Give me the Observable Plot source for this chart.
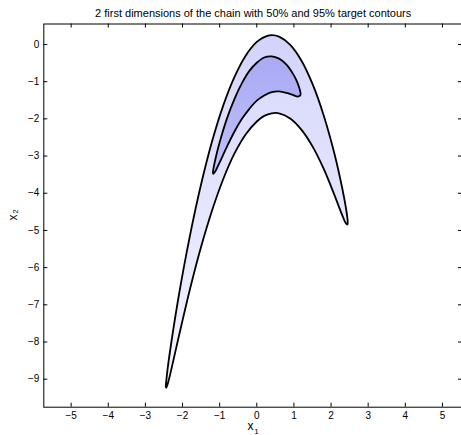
<!DOCTYPE html>
<html><head><meta charset="utf-8">
<script src="https://cdn.jsdelivr.net/npm/d3@7"></script>
<script src="https://cdn.jsdelivr.net/npm/@observablehq/plot@0.6"></script>
<style>body{margin:0;background:#fff} svg{display:block}</style>
</head><body><div id="chart"></div>
<script>
const title = "2 first dimensions of the chain with 50% and 95% target contours";
const xTicks = [-5,-4,-3,-2,-1,0,1,2,3,4,5];
const yTicks = [-9,-8,-7,-6,-5,-4,-3,-2,-1,0];

// 95% contour, read as x1 positions with the upper and lower x2 edges
const c95x     = [-2.45,-2.44,-2.4,-2.3,-2.1,-1.8,-1.5,-1.2,-0.9,-0.6,-0.3,0,0.2,0.4,0.6,0.9,1.2,1.5,1.8,2.1,2.3,2.4,2.44,2.45];
const c95upper = [-9.19,-9.07,-8.71,-8.00,-6.75,-5.14,-3.76,-2.59,-1.63,-0.87,-0.30,0.07,0.20,0.25,0.21,-0.01,-0.43,-1.06,-1.90,-2.97,-3.86,-4.39,-4.67,-4.79];
const c95lower = [-9.19,-9.23,-9.13,-8.73,-7.85,-6.58,-5.44,-4.45,-3.61,-2.93,-2.42,-2.07,-1.92,-1.85,-1.85,-1.99,-2.29,-2.74,-3.34,-4.07,-4.59,-4.81,-4.84,-4.79];

// 50% contour
const c50x     = [-1.18,-1.17,-1.1,-1.0,-0.8,-0.6,-0.4,-0.2,0,0.2,0.4,0.6,0.8,1.0,1.1,1.17,1.18];
const c50upper = [-3.45,-3.36,-3.02,-2.63,-1.98,-1.46,-1.04,-0.71,-0.49,-0.35,-0.32,-0.38,-0.54,-0.83,-1.04,-1.26,-1.33];
const c50lower = [-3.45,-3.48,-3.38,-3.17,-2.74,-2.34,-2.00,-1.73,-1.51,-1.37,-1.28,-1.26,-1.30,-1.37,-1.40,-1.37,-1.33];

// approximate sample-cloud tint (x2 level -> colour)
const tint95Levels = [0.3, -1.5, -4, -6.5, -9.3];
const tint95Colors = ["#d2d2fb", "#dcdcfc", "#e4e4fd", "#ececfe", "#f4f4ff"];
const tint50Levels = [-0.3, -1.8, -3.5];
const tint50Colors = ["#a9a9f5", "#b4b4f6", "#c2c2f8"];

function ring(xs, up, lo) {
  const pts = xs.map((x, i) => ({x, y: up[i]}));
  for (let i = xs.length - 2; i >= 1; i--) pts.push({x: xs[i], y: lo[i]});
  return pts;
}
const ring95 = ring(c95x, c95upper, c95lower);
const ring50 = ring(c50x, c50upper, c50lower);

const W = 461, H = 435;
const mL = 43.3, mT = 23.5, mR = -1, mB = 28.3;
const innerW = W - mL - mR, innerH = H - mT - mB;
const fmt = d => d < 0 ? "\u2212" + (-d) : String(d);
const font = "'Liberation Sans', Arial, Helvetica, sans-serif";

function gradients(index, scales) {
  const defs = d3.create("svg:defs");
  const add = (id, levels, colors) => {
    const y0 = scales.y(levels[0]), y1 = scales.y(levels[levels.length - 1]);
    const g = defs.append("linearGradient").attr("id", id)
      .attr("gradientUnits", "userSpaceOnUse")
      .attr("x1", 0).attr("x2", 0).attr("y1", y0).attr("y2", y1);
    levels.forEach((l, i) => g.append("stop")
      .attr("offset", (scales.y(l) - y0) / (y1 - y0))
      .attr("stop-color", colors[i]));
  };
  add("tint95", tint95Levels, tint95Colors);
  add("tint50", tint50Levels, tint50Colors);
  return defs.node();
}

const chart = Plot.plot({
  width: W, height: H,
  marginLeft: mL, marginTop: mT, marginRight: mR, marginBottom: mB,
  x: {domain: [-5.736, 5.54]},
  y: {domain: [-9.753, 0.551]},
  style: {fontFamily: font, background: "#fff", color: "#000", overflow: "visible"},
  marks: [
    gradients,
    Plot.line(ring95, {x: "x", y: "y", curve: "catmull-rom-closed", fill: "url(#tint95)", stroke: "none"}),
    Plot.line(ring50, {x: "x", y: "y", curve: "catmull-rom-closed", fill: "url(#tint50)", stroke: "none"}),
    Plot.line(ring95, {x: "x", y: "y", curve: "catmull-rom-closed", stroke: "#000", strokeWidth: 1.8}),
    Plot.line(ring50, {x: "x", y: "y", curve: "catmull-rom-closed", stroke: "#000", strokeWidth: 1.8}),
    Plot.frame({stroke: "#000", strokeWidth: 1}),
    Plot.tickX(xTicks, {x: d => d, insetTop: innerH - 4, stroke: "#000"}),
    Plot.tickX(xTicks, {x: d => d, insetBottom: innerH - 4, stroke: "#000"}),
    Plot.tickY(yTicks, {y: d => d, insetRight: innerW - 4, stroke: "#000"}),
    Plot.tickY(yTicks, {y: d => d, insetLeft: innerW - 4, stroke: "#000"}),
    Plot.axisX(xTicks, {tickSize: 0, tickPadding: 5, fontSize: 10, label: null, tickFormat: fmt}),
    Plot.axisY(yTicks, {tickSize: 0, tickPadding: 4.5, fontSize: 10, label: null, tickFormat: fmt}),
    Plot.text([title], {frameAnchor: "top", lineAnchor: "bottom", dy: -6.8, fontSize: 11}),
    Plot.text(["x"], {frameAnchor: "bottom", lineAnchor: "bottom", dx: -2.6, dy: 22.8, fontSize: 12}),
    Plot.text(["1"], {frameAnchor: "bottom", lineAnchor: "bottom", dx: 3.2, dy: 26.6, fontSize: 8}),
    Plot.text(["x"], {frameAnchor: "left", lineAnchor: "middle", rotate: -90, dx: -30.8, dy: 4.9, fontSize: 12}),
    Plot.text(["2"], {frameAnchor: "left", lineAnchor: "middle", rotate: -90, dx: -28.2, dy: -1.8, fontSize: 8})
  ]
});
document.getElementById("chart").append(chart);
</script>
</body></html>
